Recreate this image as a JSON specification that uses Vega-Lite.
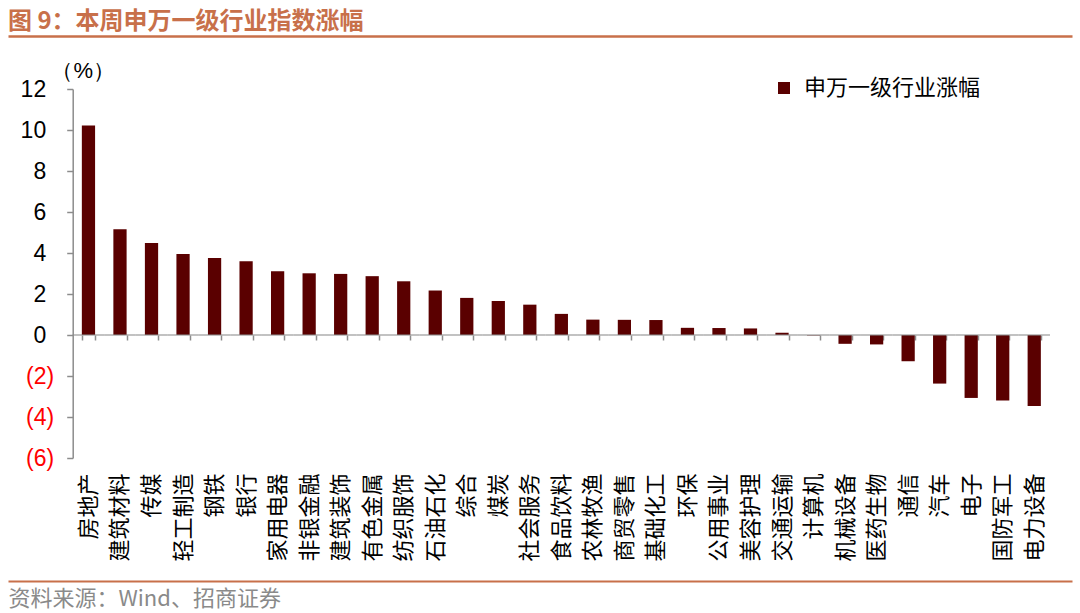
{
  "$schema": "https://vega.github.io/schema/vega-lite/v6.json",
  "width": 1064,
  "height": 369,
  "autosize": {"type": "none"},
  "padding": {"left": 8, "top": 89, "right": 8, "bottom": 155},
  "background": "white",
  "title": {
    "text": "图 9：本周申万一级行业指数涨幅",
    "anchor": "start",
    "frame": "group",
    "orient": "top",
    "color": "#C8704A",
    "font": "Noto Sans CJK SC",
    "fontSize": 24,
    "fontWeight": "bold",
    "offset": 2
  },
  "config": {"view": {"stroke": null}},
  "data": {
    "values": [
      {"industry": "房地产", "change": 10.22},
      {"industry": "建筑材料", "change": 5.16},
      {"industry": "传媒", "change": 4.49},
      {"industry": "轻工制造", "change": 3.95},
      {"industry": "钢铁", "change": 3.76},
      {"industry": "银行", "change": 3.60},
      {"industry": "家用电器", "change": 3.11},
      {"industry": "非银金融", "change": 3.01},
      {"industry": "建筑装饰", "change": 2.98},
      {"industry": "有色金属", "change": 2.87},
      {"industry": "纺织服饰", "change": 2.62},
      {"industry": "石油石化", "change": 2.17},
      {"industry": "综合", "change": 1.81},
      {"industry": "煤炭", "change": 1.66},
      {"industry": "社会服务", "change": 1.48},
      {"industry": "食品饮料", "change": 1.03},
      {"industry": "农林牧渔", "change": 0.75},
      {"industry": "商贸零售", "change": 0.74},
      {"industry": "基础化工", "change": 0.73},
      {"industry": "环保", "change": 0.35},
      {"industry": "公用事业", "change": 0.34},
      {"industry": "美容护理", "change": 0.32},
      {"industry": "交通运输", "change": 0.11},
      {"industry": "计算机", "change": -0.02},
      {"industry": "机械设备", "change": -0.43},
      {"industry": "医药生物", "change": -0.46},
      {"industry": "通信", "change": -1.28},
      {"industry": "汽车", "change": -2.37},
      {"industry": "电子", "change": -3.07},
      {"industry": "国防军工", "change": -3.2},
      {"industry": "电力设备", "change": -3.46}
    ]
  },
  "layer": [
    {
      "encoding": {
        "x": {
          "field": "industry",
          "type": "nominal",
          "sort": null,
          "scale": {"range": [64.7, 1042], "paddingInner": 0.58, "paddingOuter": 0.29}
        },
        "y": {
          "field": "change",
          "type": "quantitative",
          "scale": {"domain": [-6, 12], "nice": false},
          "axis": {
            "values": [-6, -4, -2, 0, 2, 4, 6, 8, 10, 12],
            "offset": -64.7,
            "grid": false,
            "domain": true,
            "domainColor": "#8c8c8c",
            "domainWidth": 1.5,
            "ticks": true,
            "tickSize": 6,
            "tickColor": "#8c8c8c",
            "tickWidth": 1.5,
            "labelFont": "Liberation Sans",
            "labelFontSize": 23,
            "labelPadding": {"condition": {"test": "datum.value < 0", "value": 13}, "value": 21},
            "labelExpr": "datum.value < 0 ? '(' + abs(datum.value) + ')' : datum.label",
            "labelColor": {"condition": {"test": "datum.value < 0", "value": "#FF0000"}, "value": "#000000"},
            "title": "（%）",
            "titleAngle": 0,
            "titleX": 10,
            "titleY": -19,
            "titleAlign": "center",
            "titleBaseline": "middle",
            "titleFont": "Liberation Sans",
            "titleFontSize": 22,
            "titleFontWeight": "normal",
            "titleColor": "#000000"
          }
        }
      },
      "layer": [
        {
          "mark": {"type": "bar"},
          "encoding": {
            "x": {
              "field": "industry",
              "type": "nominal",
              "sort": null,
              "scale": {"range": [64.7, 1042], "paddingInner": 0.58, "paddingOuter": 0.29},
              "axis": {
                "orient": "bottom",
                "offset": -123,
                "domain": false,
                "ticks": true,
                "tickBand": "extent",
                "tickSize": 5,
                "tickWidth": 1.5,
                "tickColor": "#8c8c8c",
                "labelAngle": -90,
                "labelPadding": 133,
                "labelFont": "Noto Sans CJK SC",
                "labelFontSize": 22,
                "labelColor": "#000000",
                "labelOverlap": false,
                "labelLimit": 0,
                "grid": false,
                "title": null
              }
            },
            "color": {
              "datum": "申万一级行业涨幅",
              "type": "nominal",
              "scale": {"range": ["#5a0000"]},
              "legend": {
                "orient": "none",
                "legendX": 765,
                "legendY": -12,
                "title": null,
                "symbolType": "square",
                "symbolSize": 144,
                "symbolStrokeWidth": 0,
                "labelFont": "Noto Sans CJK SC",
                "labelFontSize": 22,
                "labelColor": "#000000",
                "labelOffset": 9,
                "labelLimit": 400,
                "padding": 0
              }
            }
          }
        },
        {
          "mark": {"type": "tick", "orient": "horizontal", "size": 31.55, "thickness": 1.5, "color": "#8c8c8c"},
          "encoding": {
            "y": {"datum": 0, "type": "quantitative"}
          }
        }
      ]
    },
    {
      "mark": {"type": "tick", "opacity": 0},
      "encoding": {
        "x": {
          "field": "industry",
          "type": "nominal",
          "sort": null,
          "axis": {
            "orient": "top",
            "offset": 53,
            "domain": true,
            "domainColor": "#C8704A",
            "domainWidth": 2.5,
            "ticks": false,
            "labels": false,
            "grid": false,
            "title": null
          }
        }
      }
    },
    {
      "mark": {"type": "tick", "opacity": 0},
      "encoding": {
        "x": {
          "field": "industry",
          "type": "nominal",
          "sort": null,
          "axis": {
            "orient": "bottom",
            "offset": 123,
            "domain": true,
            "domainColor": "#C8704A",
            "domainWidth": 2,
            "ticks": false,
            "labels": false,
            "grid": false,
            "title": "资料来源：Wind、招商证券",
            "titleAnchor": "start",
            "titleAlign": "left",
            "titleX": 0,
            "titleY": 17,
            "titleBaseline": "middle",
            "titleFont": "Noto Sans CJK SC",
            "titleFontSize": 22,
            "titleFontWeight": "normal",
            "titleColor": "#8a8a8a"
          }
        }
      }
    }
  ],
  "resolve": {"scale": {"x": "independent"}, "axis": {"x": "independent"}}
}
